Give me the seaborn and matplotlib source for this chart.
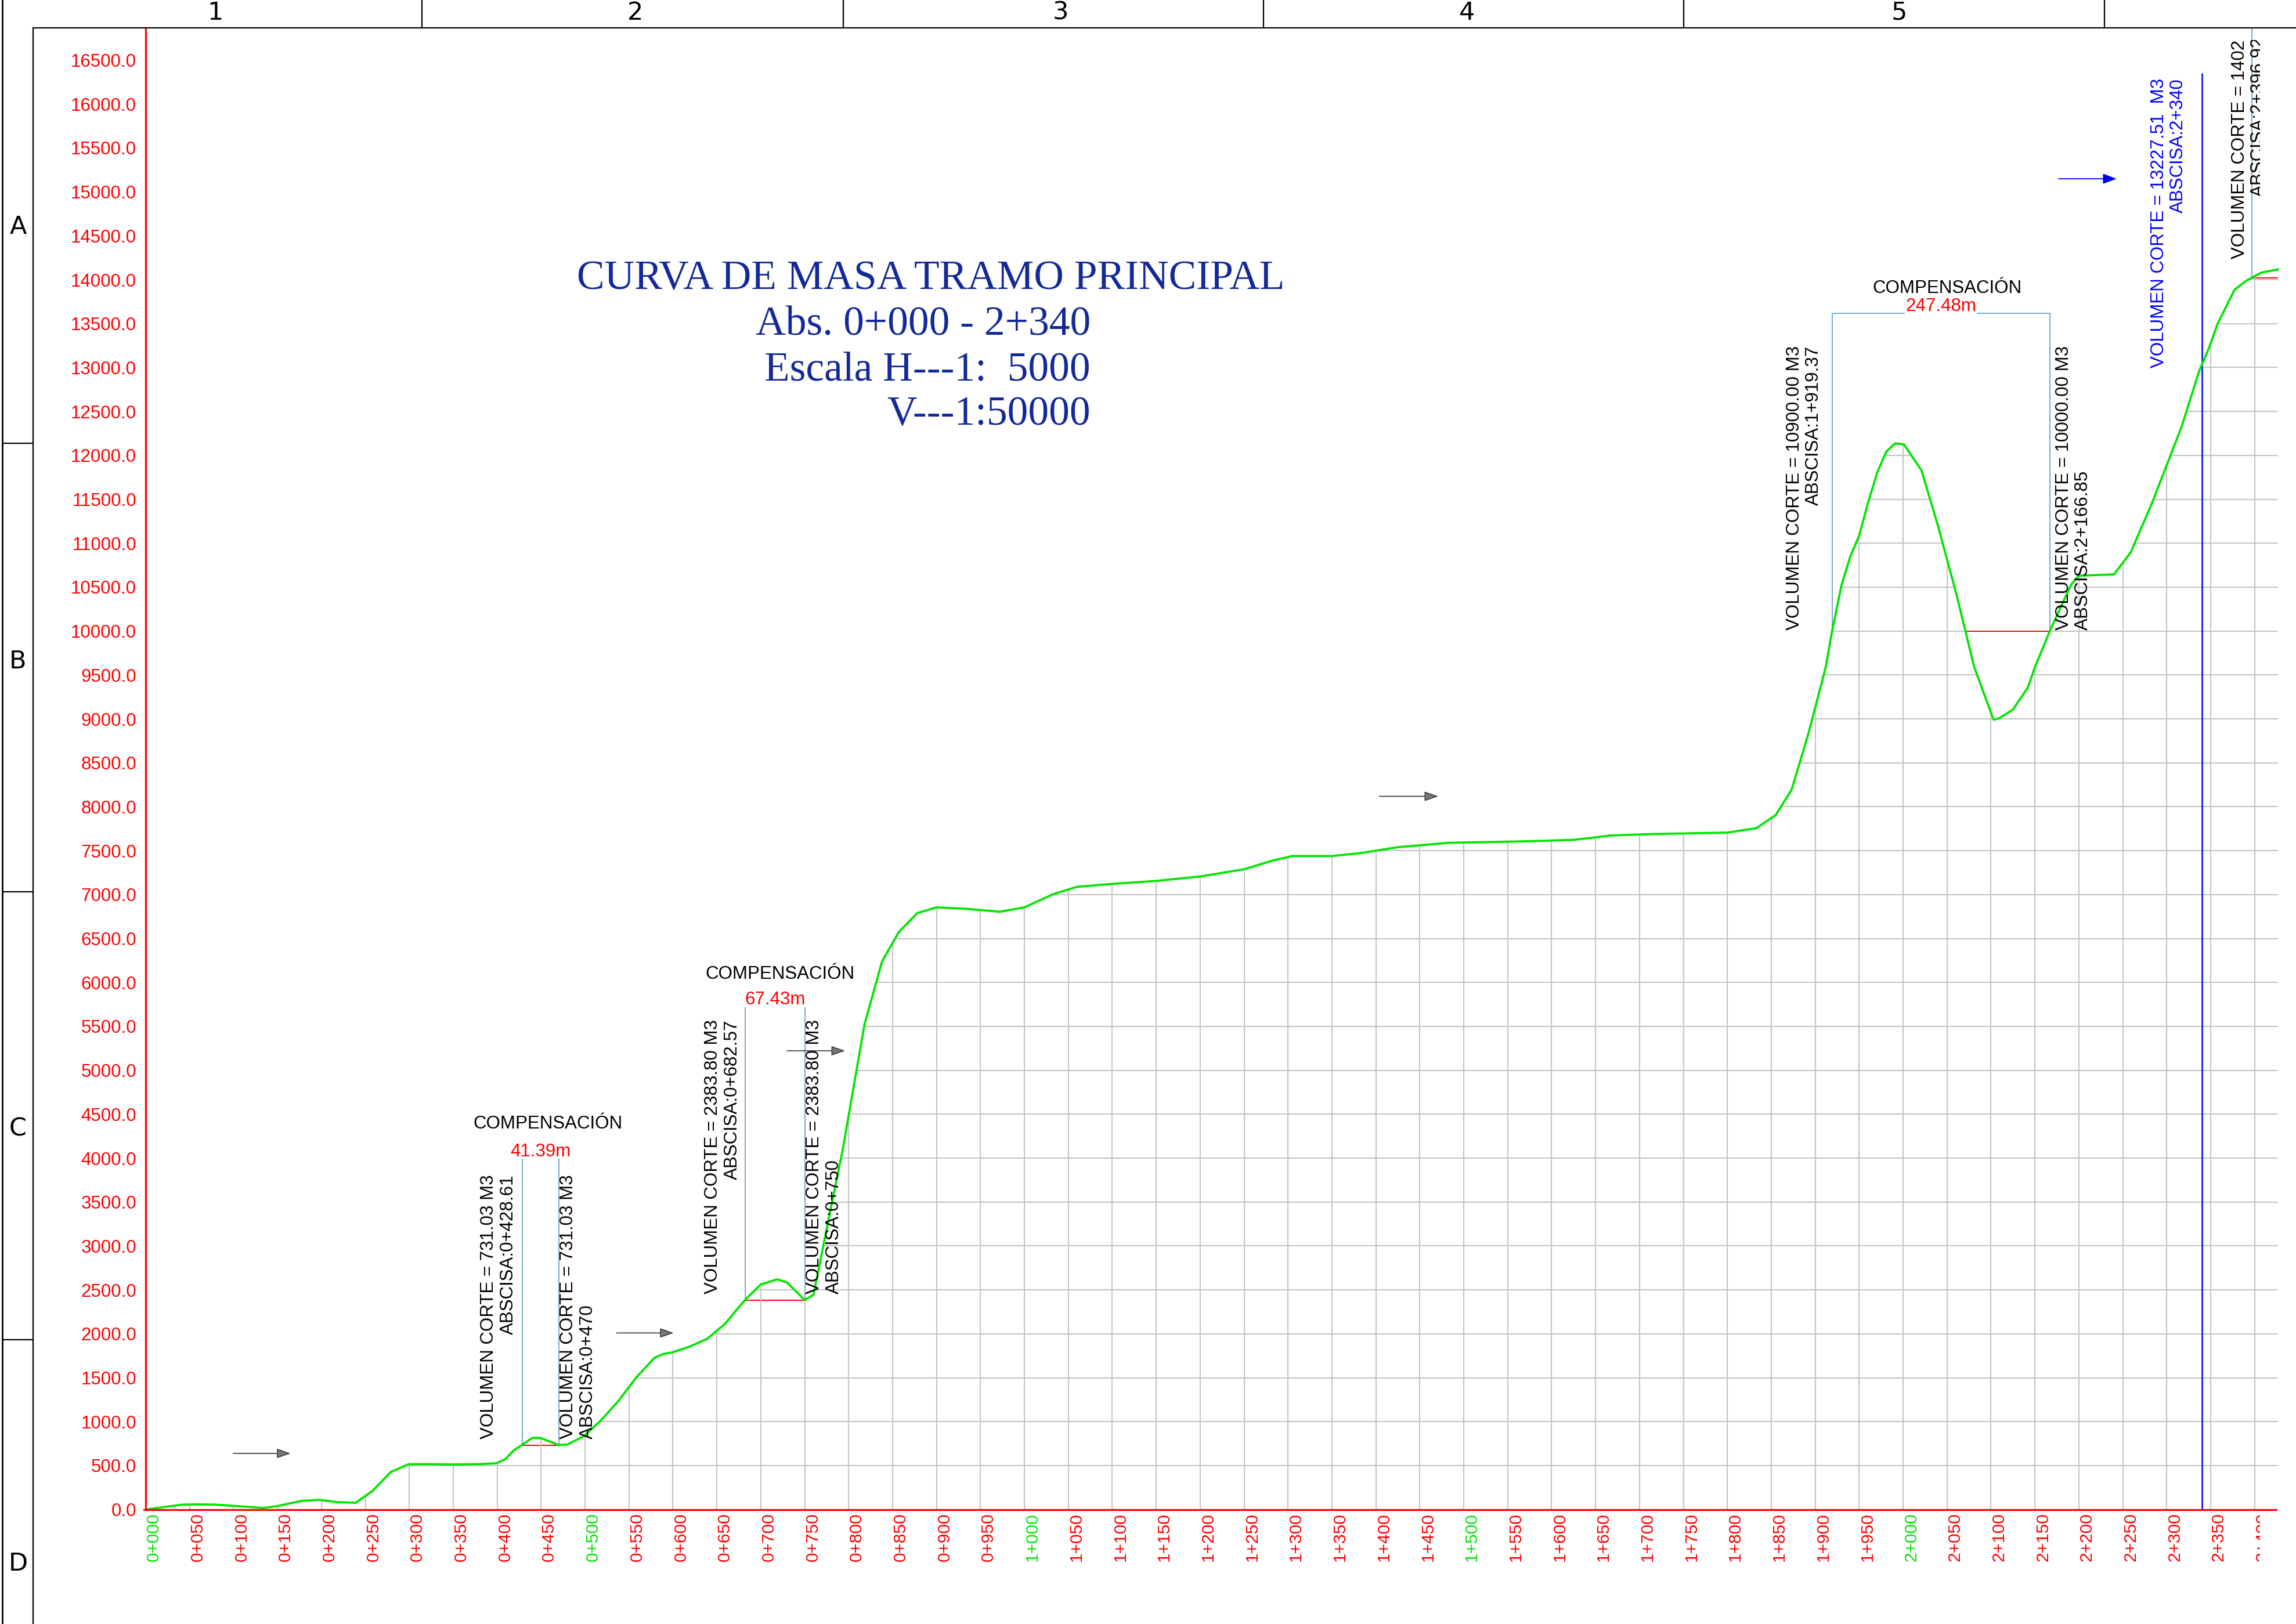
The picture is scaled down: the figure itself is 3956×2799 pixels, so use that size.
import matplotlib
matplotlib.use('Agg')
import matplotlib.pyplot as plt
import seaborn as sns
from matplotlib.lines import Line2D
from matplotlib.transforms import Bbox, TransformedBbox

# curva de masa: abscisa (m) vs volumen acumulado (m3)
abscisa = [0, 41, 59, 80, 103, 134, 150, 178, 198, 218, 239, 258, 279, 299, 319, 350, 380, 399,
           409, 419, 428, 440, 449, 470, 480, 499, 518, 538, 558, 579, 589, 599, 619, 639, 659,
           682, 700, 719, 730, 750, 760, 765, 778, 793, 818, 838, 857, 878, 900, 933, 972, 1000,
           1033, 1060, 1100, 1150, 1200, 1250, 1283, 1305, 1350, 1383, 1425, 1483, 1567, 1625,
           1667, 1717, 1800, 1833, 1855, 1873, 1892, 1912, 1919, 1930, 1940, 1950, 1960, 1971,
           1981, 1991, 2001, 2021, 2040, 2061, 2081, 2103, 2110, 2125, 2142, 2150, 2167, 2191,
           2200, 2240, 2259, 2283, 2317, 2337, 2348, 2358, 2377, 2390, 2398, 2408, 2427]
volumen = [0, 55, 59, 55, 40, 17, 40, 99, 110, 84, 77, 211, 427, 515, 517, 513, 517, 527,
           571, 674, 734, 816, 816, 734, 740, 837, 1014, 1235, 1500, 1727, 1771, 1788, 1854, 1943, 2111,
           2385, 2562, 2621, 2583, 2385, 2444, 2694, 3344, 4081, 5521, 6238, 6572, 6789, 6855, 6839, 6805, 6855,
           7006, 7089, 7122, 7156, 7206, 7289, 7389, 7439, 7439, 7473, 7540, 7590, 7606, 7623,
           7673, 7690, 7706, 7756, 7906, 8190, 8824, 9589, 9989, 10526, 10850, 11087, 11456, 11817,
           12044, 12137, 12125, 11829, 11189, 10408, 9589, 8991, 9010, 9107, 9357, 9589, 10000, 10526,
           10630, 10645, 10895, 11450, 12327, 12962, 13219, 13499, 13882, 13985, 14029, 14082, 14117]

x_ticks = list(range(0, 2401, 50))
x_labels = ["%d+%03d" % (m // 1000, m % 1000) for m in x_ticks]
y_ticks = list(range(0, 16501, 500))
y_labels = ["%.1f" % v for v in y_ticks]

# compensaciones
comp_ini = [428.61, 682.57, 1919.37]
comp_fin = [470.0, 750.0, 2166.85]
comp_nivel = [731.03, 2383.80, 10000.0]
comp_long = ["41.39m", "67.43m", "247.48m"]
txt_ini = ["VOLUMEN CORTE = 731.03 M3\nABSCISA:0+428.61",
           "VOLUMEN CORTE = 2383.80 M3\nABSCISA:0+682.57",
           "VOLUMEN CORTE = 10900.00 M3\nABSCISA:1+919.37"]
txt_fin = ["VOLUMEN CORTE = 731.03 M3\nABSCISA:0+470",
           "VOLUMEN CORTE = 2383.80 M3\nABSCISA:0+750",
           "VOLUMEN CORTE = 10000.00 M3\nABSCISA:2+166.85"]

final_abs = 2340
final_txt = "VOLUMEN CORTE = 13227.51  M3\nABSCISA:2+340"
ultimo_abs = 2396.92
ultimo_nivel = 14020.0
ultimo_txt = "VOLUMEN CORTE = 14020.00 M3\nABSCISA:2+396.92"

titulo = ["CURVA DE MASA TRAMO PRINCIPAL", "Abs. 0+000 - 2+340", "Escala H---1:  5000", "V---1:50000"]
columnas = ["1", "2", "3", "4", "5"]
filas = ["A", "B", "C", "D"]

W, H = 3956, 2799
sns.set_style("white")
plt.rcParams['font.family'] = ['Liberation Sans', 'DejaVu Sans']

fig = plt.figure(figsize=(W / 100, H / 100), dpi=100)
ax = fig.add_axes([57 / W, 0, (W - 57) / W, (H - 48) / H])
ax.set_xlim(-128.14, 2447.16)
ax.set_ylim(-1303.2, 16867.1)

# grid only beneath the curve
under = ax.fill_between(abscisa, volumen, 0, color='none', lw=0)
clip = under.get_paths()[0]
hl = ax.hlines(y_ticks[1:], 0, abscisa[-1], colors='#c4c4c4', lw=1.5, zorder=2)
vl = ax.vlines(x_ticks[1:], 0, y_ticks[-1], colors='#c4c4c4', lw=1.5, zorder=2)
hl.set_clip_path(clip, ax.transData)
vl.set_clip_path(clip, ax.transData)

sns.lineplot(x=abscisa, y=volumen, ax=ax, color='#00e600', linewidth=2.7,
             sort=False, estimator=None, zorder=5)
ax.set_xlabel('')
ax.set_ylabel('')

azul_claro = '#76a9c9'
tops = [3994, 5717, 13617]
dx_ini = [6, 5, 11]
dx_fin = [1, 1, 6]
base_ini = [805, 2455, 10010]
comp_x = [458, 722, 2050]
comp_y = [4390, 6093, 13900]
long_y = [4073, 5804, 13696]
for i in range(3):
    ax.hlines(comp_nivel[i], comp_ini[i], comp_fin[i], colors='red', lw=1.4, zorder=1.5)
    ax.vlines([comp_ini[i], comp_fin[i]], comp_nivel[i], tops[i], colors=azul_claro, lw=1.4, zorder=3)
    ax.text(comp_ini[i] - dx_ini[i], base_ini[i], txt_ini[i], rotation=90, ha='right', va='bottom',
            fontsize=22.5, color='black', linespacing=1.15, zorder=6)
    ax.text(comp_fin[i] + dx_fin[i], base_ini[i], txt_fin[i], rotation=90, ha='left', va='bottom',
            fontsize=22.5, color='black', linespacing=1.15, zorder=6)
    mid = (comp_ini[i] + comp_fin[i]) / 2
    ax.text(comp_x[i], comp_y[i], "COMPENSACIÓN", ha='center', va='center',
            fontsize=22.5, color='black', zorder=6)
    bb = dict(fc='white', ec='none', pad=1) if i == 2 else None
    ax.text(mid, long_y[i], comp_long[i], ha='center', va='center', fontsize=22.5, color='red',
            bbox=bb, zorder=6)
ax.hlines(tops[2], comp_ini[2], comp_fin[2], colors=azul_claro, lw=1.4, zorder=3)

# cierre 2+340
ax.vlines(final_abs, 0, 16354, colors='blue', lw=1.8, zorder=4)
ax.text(final_abs - 17, 12997, final_txt, rotation=90, ha='right', va='bottom',
        fontsize=22.5, color='blue', linespacing=1.15, zorder=6)

# ultimo tramo
ax.hlines(ultimo_nivel, ultimo_abs, abscisa[-1], colors='red', lw=1.4, zorder=1.5)
ax.vlines(ultimo_abs, ultimo_nivel, 16867, colors=azul_claro, lw=1.4, zorder=3)
clipbox = TransformedBbox(Bbox([[-130, -1400], [2406.5, 16728]]), ax.transData)
t = ax.text(ultimo_abs - 3, 14237, ultimo_txt, rotation=90, ha='center', va='bottom',
            fontsize=22.5, color='black', linespacing=1.15, zorder=6)
t.set_clip_box(clipbox)
t.set_clip_on(True)

# flechas de sentido
arr_ini = [100, 536, 730, 1404]
arr_fin = [165, 601, 796, 1471]
arr_y = [639, 2010, 5222, 8119]
for a, b, yv in zip(arr_ini, arr_fin, arr_y):
    ax.annotate('', xy=(b, yv), xytext=(a, yv),
                arrowprops=dict(arrowstyle='-|>,head_length=0.4,head_width=0.14', mutation_scale=36,
                                color='#444444', fc='#777777', lw=1.3, shrinkA=0, shrinkB=0))
ax.annotate('', xy=(2243, 15149), xytext=(2177, 15149),
            arrowprops=dict(arrowstyle='-|>,head_length=0.4,head_width=0.15', mutation_scale=36,
                            color='blue', lw=1.3, shrinkA=0, shrinkB=0))

# ejes
for s in ['top', 'right']:
    ax.spines[s].set_visible(False)
ax.spines['left'].set_position(('data', 0))
ax.spines['bottom'].set_position(('data', 0))
ax.spines['left'].set_bounds(0, 16867)
ax.spines['bottom'].set_bounds(-2, 2425)
for s in ['left', 'bottom']:
    ax.spines[s].set_color('red')
    ax.spines[s].set_linewidth(2.3)
    ax.spines[s].set_zorder(7)

ax.set_yticks(y_ticks)
ax.set_yticklabels(y_labels)
ax.set_xticks(x_ticks)
ax.set_xticklabels(x_labels, rotation=90, ha='left', va='top')
ax.tick_params(axis='x', direction='inout', length=4, width=1.4, colors='red', pad=2, labelsize=21.5)
ax.tick_params(axis='y', direction='inout', length=7, width=1.4, colors='red', pad=8, labelsize=22.5)
for m, lab in zip(x_ticks, ax.get_xticklabels()):
    if m % 500 == 0:
        lab.set_color('#00e600')
    lab.set_clip_box(clipbox)
    lab.set_clip_on(True)

# titulo
azul = '#13299a'
tfont = ['Liberation Serif', 'DejaVu Serif']
fig.text(1604 / W, 1 - 499 / H, titulo[0], ha='center', va='baseline', fontsize=51.5, color=azul, family=tfont)
for txt, yb in zip(titulo[1:], [578, 655, 733]):
    fig.text(1879 / W, 1 - yb / H, txt, ha='right', va='baseline', fontsize=51.5, color=azul, family=tfont)

# marco del plano
def linea(xs, ys, lw=1.6):
    fig.add_artist(Line2D([x / W for x in xs], [1 - y / H for y in ys], color='black', lw=lw))

linea([4, 4], [0, H], 2.0)
linea([57, 57], [48, H])
linea([57, W], [48, 48])
for xd in [727, 1453, 2177, 2901, 3626]:
    linea([xd, xd], [0, 48])
for yd in [764, 1537, 2309]:
    linea([4, 57], [yd, yd])
for lab, xc in zip(columnas, [371, 1095, 1827, 2528, 3272]):
    fig.text(xc / W, 1 - 22 / H, lab, ha='center', va='center', fontsize=31,
             family=['DejaVu Sans'], color='black')
for lab, yc in zip(filas, [391, 1140, 1945, 2695]):
    fig.text(31 / W, 1 - yc / H, lab, ha='center', va='center', fontsize=31,
             family=['DejaVu Sans'], color='black')

fig.savefig('out.png', dpi=100, facecolor='white')
